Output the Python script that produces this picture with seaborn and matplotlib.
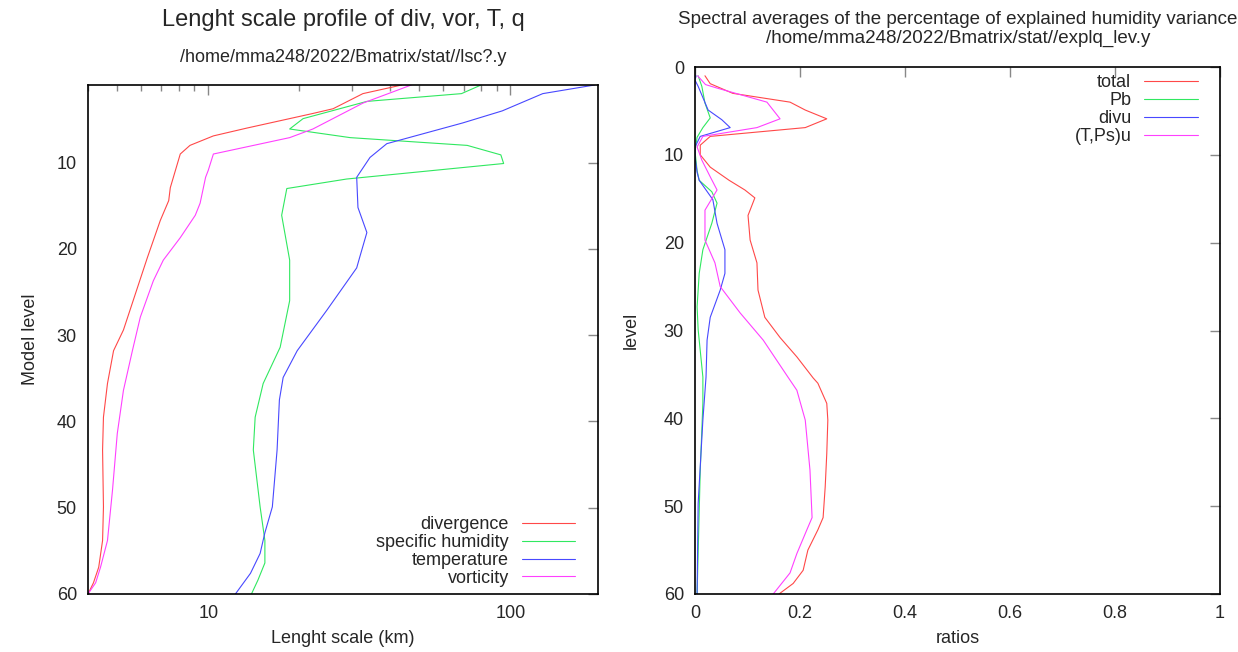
import numpy as np
import pandas as pd
import matplotlib
matplotlib.use("Agg")
import matplotlib.pyplot as plt
import seaborn as sns
from matplotlib.ticker import LogLocator, NullFormatter, FixedLocator, MultipleLocator, FuncFormatter

# ---- left panel: length scale (km) per model level ----
div_lev = [1, 2, 3.75, 4.3, 6, 6.9, 8, 9, 12.9, 14.4, 16.7, 21, 29.4, 31.8, 35.6, 39.5, 43.3, 49.9, 53.8, 56.9, 58.7, 60]
div_val = [43.7, 32.5, 25.9, 22.2, 13.4, 10.4, 8.7, 8.08, 7.49, 7.4, 6.94, 6.29, 5.24, 4.86, 4.64, 4.5, 4.47, 4.5, 4.47, 4.34, 4.17, 4.0]

q_lev = [1, 2, 2.9, 4.9, 6.1, 7.1, 8, 9.1, 10.1, 11.9, 13, 16.1, 21.3, 26, 31.4, 35.6, 39.5, 43.3, 49.9, 53.8, 56.4, 58.4, 60]
q_val = [80, 68.9, 33.5, 20.6, 18.6, 29.5, 72, 93, 95, 28.7, 18.2, 17.5, 18.6, 18.6, 17.3, 15.2, 14.3, 14.1, 14.85, 15.4, 15.4, 14.6, 13.9]

t_lev = [1, 2, 4, 5.4, 7.8, 9.4, 11.7, 15.2, 18.1, 21, 22.2, 27.1, 31.8, 34.9, 37.5, 43.3, 49.9, 52.9, 55.3, 57.6, 60]
t_val = [190, 128, 94, 69.5, 39, 34.3, 31.0, 31.3, 33.5, 31.7, 31.0, 24.7, 19.7, 17.7, 17.2, 16.9, 16.3, 15.4, 14.85, 13.8, 12.3]

vor_lev = [1, 3.1, 6.1, 7.1, 9, 10.9, 11.7, 14.7, 16.1, 18.7, 21.3, 23.7, 27.9, 31.8, 36.4, 41.4, 48, 53.8, 56.9, 58.7, 60]
vor_val = [47, 32.5, 22.2, 18.6, 10.4, 10.0, 9.8, 9.4, 9.06, 8.08, 7.1, 6.58, 5.96, 5.61, 5.24, 5.0, 4.82, 4.64, 4.4, 4.24, 4.0]

# ---- right panel: explained humidity variance ratios per level ----
tot_lev = [1, 1.9, 3, 4, 4.9, 5.9, 6.9, 7.9, 8.9, 10, 11.4, 12.9, 14, 14.9, 16.9, 19.7, 22.3, 25.4, 28.5, 30.8, 33, 35.4, 36, 38.3, 40.2, 44, 47.8, 51.3, 52.7, 55, 57.3, 58.8, 60]
tot_val = [0.019, 0.029, 0.072, 0.181, 0.21, 0.251, 0.21, 0.029, 0.01, 0.01, 0.029, 0.065, 0.095, 0.114, 0.101, 0.105, 0.118, 0.12, 0.133, 0.162, 0.194, 0.225, 0.234, 0.251, 0.253, 0.251, 0.248, 0.244, 0.234, 0.215, 0.206, 0.187, 0.16]

pb_lev = [1, 2.2, 4.1, 5.8, 6.9, 8, 9.6, 11.8, 12.9, 14.2, 15.5, 17.8, 20.8, 23.5, 27.3, 29.9, 35.3, 38.3, 45.9, 60]
pb_val = [0.006, 0.013, 0.019, 0.029, 0.015, 0.004, 0.0, 0.004, 0.008, 0.032, 0.042, 0.032, 0.015, 0.008, 0.004, 0.006, 0.015, 0.015, 0.01, 0.004]

divu_lev = [1, 1.5, 2.2, 4.9, 6, 6.9, 7.9, 9.1, 10.2, 12, 12.9, 15.1, 17.8, 20.8, 23.5, 25.4, 28.5, 31.1, 35.3, 40.2, 49.7, 60]
divu_val = [0.002, 0.0, 0.006, 0.025, 0.051, 0.067, 0.01, 0.0, 0.0, 0.004, 0.008, 0.034, 0.042, 0.057, 0.057, 0.048, 0.029, 0.023, 0.021, 0.015, 0.006, 0.004]

tps_lev = [1, 2, 2.4, 4, 5.9, 6.9, 7.9, 9.1, 10.6, 12.5, 14, 16.3, 19.7, 22.3, 25, 28, 31.1, 35.3, 36.8, 40.2, 45.9, 51.3, 52.7, 55.4, 57.6, 60]
tps_val = [0.005, 0.02, 0.042, 0.137, 0.162, 0.118, 0.015, 0.004, 0.013, 0.029, 0.042, 0.019, 0.019, 0.038, 0.048, 0.086, 0.13, 0.177, 0.194, 0.21, 0.219, 0.223, 0.213, 0.194, 0.181, 0.149]

left_names = ["divergence", "specific humidity", "temperature", "vorticity"]
right_names = ["total", "Pb", "divu", "(T,Ps)u"]
colors = ["#ff4848", "#30e860", "#4848ff", "#ff40ff"]


def to_frame(names, levs, vals):
    parts = []
    for n, l, v in zip(names, levs, vals):
        parts.append(pd.DataFrame({"level": l, "value": v, "series": n}))
    return pd.concat(parts, ignore_index=True)


left_df = to_frame(left_names, [div_lev, q_lev, t_lev, vor_lev], [div_val, q_val, t_val, vor_val])
right_df = to_frame(right_names, [tot_lev, pb_lev, divu_lev, tps_lev], [tot_val, pb_val, divu_val, tps_val])

sns.set_style("white")
plt.rcParams["font.family"] = ["Liberation Sans", "DejaVu Sans"]

fig = plt.figure(figsize=(12.38, 6.52), dpi=100)
axL = fig.add_axes([88 / 1238, 1 - 594 / 652, (598 - 88) / 1238, (594 - 85) / 652])
axR = fig.add_axes([695 / 1238, 1 - 594 / 652, (1220 - 695) / 1238, (594 - 67) / 652])

for ax, df, names in [(axL, left_df, left_names), (axR, right_df, right_names)]:
    sns.lineplot(data=df, x="value", y="level", hue="series", hue_order=names,
                 palette=colors, sort=False, estimator=None, lw=0.8, ax=ax)

# left axis setup
axL.set_xscale("log")
axL.set_xlim(4.0, 195)
axL.set_ylim(60, 1)
axL.xaxis.set_major_locator(FixedLocator([10, 100]))
axL.xaxis.set_major_formatter(FuncFormatter(lambda v, p: "%d" % v))
axL.xaxis.set_minor_locator(LogLocator(base=10, subs=np.arange(2, 10)))
axL.xaxis.set_minor_formatter(NullFormatter())
axL.yaxis.set_major_locator(FixedLocator([10, 20, 30, 40, 50, 60]))
axL.set_xlabel("Lenght scale (km)", fontsize=13, labelpad=6)
axL.set_ylabel("Model level", fontsize=13, labelpad=13)

# right axis setup
axR.set_xlim(0, 1)
axR.set_ylim(60, 0)
axR.xaxis.set_major_locator(MultipleLocator(0.2))
axR.xaxis.set_major_formatter(FuncFormatter(lambda v, p: "%g" % round(v, 1)))
axR.yaxis.set_major_locator(MultipleLocator(10))
axR.set_xlabel("ratios", fontsize=13, labelpad=6)
axR.set_ylabel("level", fontsize=13, labelpad=17)

for ax in (axL, axR):
    ax.tick_params(which="major", direction="in", length=7, width=1, color="#888888",
                   top=True, right=True, labelsize=13, pad=8)
    ax.tick_params(which="minor", direction="in", length=4, width=1, color="#888888",
                   top=True, right=True)
    for s in ax.spines.values():
        s.set_color("black")
        s.set_linewidth(1.2)

leg_kw = dict(frameon=False, markerfirst=False, fontsize=13, handlelength=2.95,
              handletextpad=0.72, labelspacing=0.05, borderaxespad=0)
axL.legend(loc="lower right", bbox_to_anchor=(0.969, 0.0), **leg_kw)
axR.legend(loc="upper right", bbox_to_anchor=(0.971, 1.0), **leg_kw)

fig.text(343 / 1238, 1 - 20 / 652, "Lenght scale profile of div, vor, T, q", ha="center", va="center", fontsize=17)
fig.text(343 / 1238, 1 - 57 / 652, "/home/mma248/2022/Bmatrix/stat//lsc?.y", ha="center", va="center", fontsize=13)
fig.text(958 / 1238, 1 - 20 / 652, "Spectral averages of the percentage of explained humidity variance",
         ha="center", va="center", fontsize=13.5)
fig.text(958 / 1238, 1 - 38 / 652, "/home/mma248/2022/Bmatrix/stat//explq_lev.y", ha="center", va="center", fontsize=13.5)

fig.savefig("out.png", dpi=100)
